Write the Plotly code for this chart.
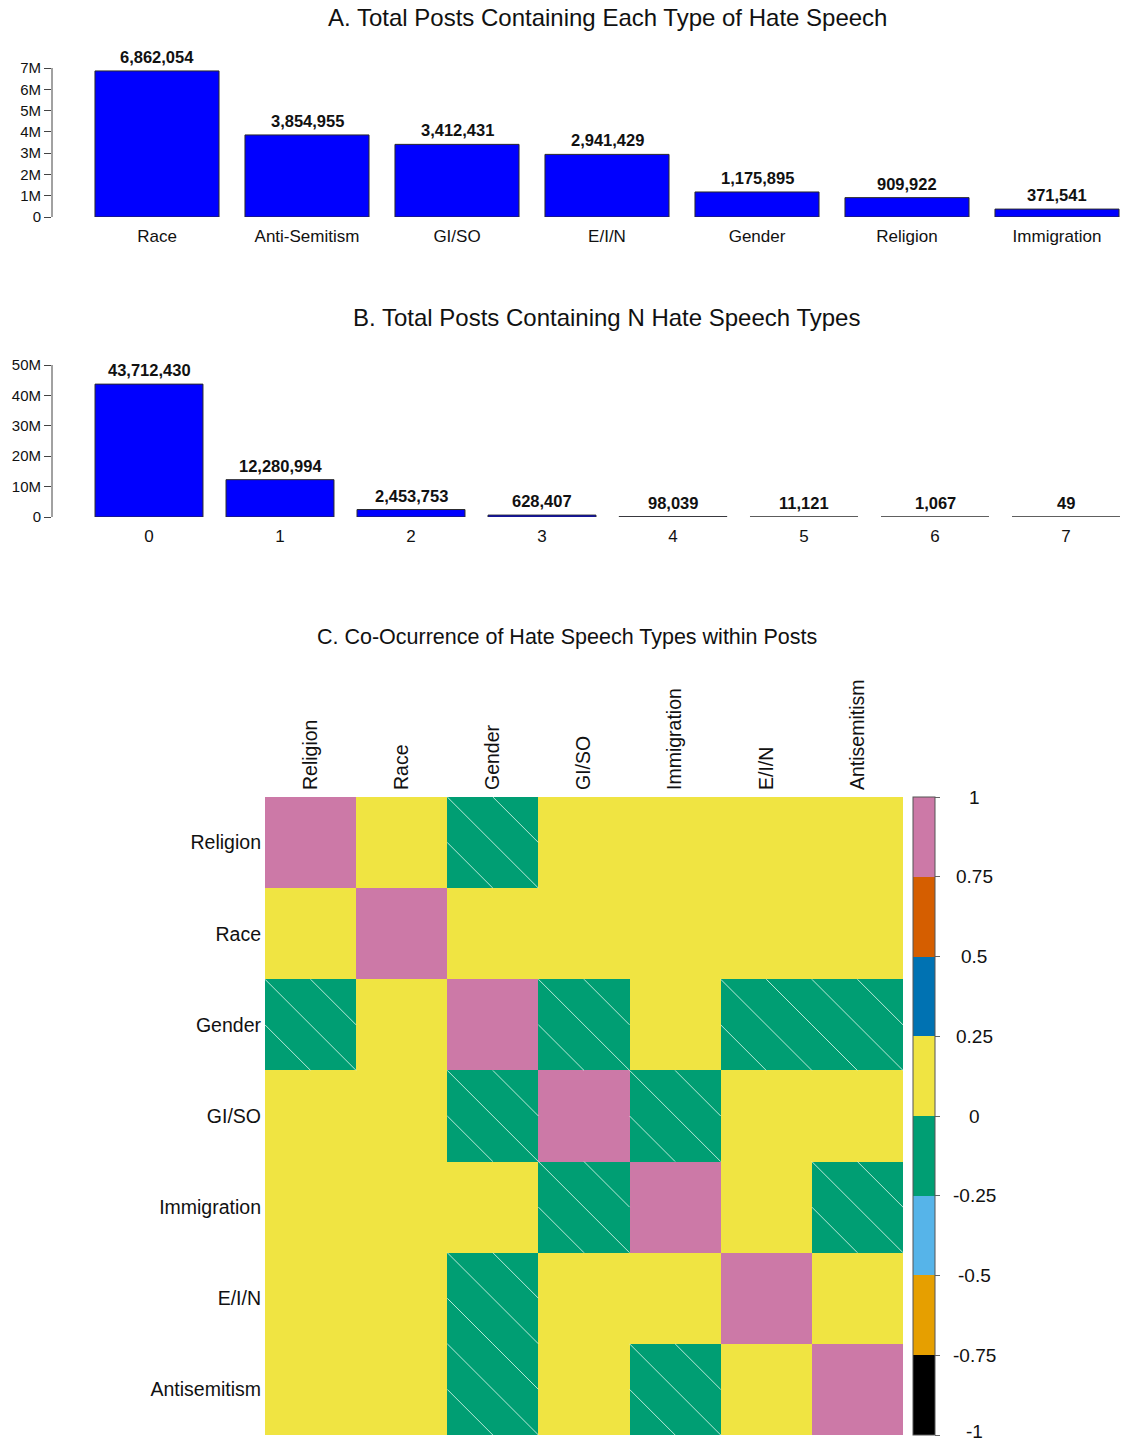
import plotly.graph_objects as go

# ---------------- data ----------------
hate_types = ["Race", "Anti-Semitism", "GI/SO", "E/I/N", "Gender", "Religion", "Immigration"]
hate_totals = [6862054, 3854955, 3412431, 2941429, 1175895, 909922, 371541]

n_types = ["0", "1", "2", "3", "4", "5", "6", "7"]
n_totals = [43712430, 12280994, 2453753, 628407, 98039, 11121, 1067, 49]

a_ticks = [0, 1e6, 2e6, 3e6, 4e6, 5e6, 6e6, 7e6]
a_ticktext = ["0", "1M", "2M", "3M", "4M", "5M", "6M", "7M"]
b_ticks = [0, 1e7, 2e7, 3e7, 4e7, 5e7]
b_ticktext = ["0", "10M", "20M", "30M", "40M", "50M"]

corr_labels = ["Religion", "Race", "Gender", "GI/SO", "Immigration", "E/I/N", "Antisemitism"]
corr_matrix = [
    [1.00, 0.06, -0.03, 0.04, 0.08, 0.09, 0.12],
    [0.06, 1.00, 0.02, 0.05, 0.07, 0.10, 0.03],
    [-0.03, 0.02, 1.00, -0.02, 0.01, -0.04, -0.03],
    [0.04, 0.05, -0.02, 1.00, -0.02, 0.02, 0.03],
    [0.08, 0.07, 0.01, -0.02, 1.00, 0.11, -0.01],
    [0.09, 0.10, -0.04, 0.02, 0.11, 1.00, 0.05],
    [0.12, 0.03, -0.03, 0.03, -0.01, 0.05, 1.00],
]
cbar_ticks = [-1, -0.75, -0.5, -0.25, 0, 0.25, 0.5, 0.75, 1]
cbar_ticktext = ["-1", "-0.75", "-0.5", "-0.25", "0", "0.25", "0.5", "0.75", "1"]
bin_colors = ["#000000", "#E69F00", "#56B4E9", "#009E73",
              "#F0E442", "#0072B2", "#D55E00", "#CC79A7"]

# ---------------- layout helpers (pixel -> paper) ----------------
W, H = 1128, 1444
FONT = "Liberation Sans, Arial, sans-serif"


def px(x):
    return x / W


def py(y):
    return 1 - y / H


fig = go.Figure()

# ---------------- panel A ----------------
fig.add_trace(go.Bar(
    x=list(range(len(hate_types))), y=hate_totals, width=0.827,
    marker=dict(color="#0000FF", line=dict(color="#2a2a2a", width=1)),
    xaxis="x", yaxis="y", showlegend=False, hoverinfo="skip"))

# ---------------- panel B ----------------
fig.add_trace(go.Bar(
    x=list(range(len(n_types))), y=n_totals, width=0.824,
    marker=dict(color="#0000FF", line=dict(color="#2a2a2a", width=1)),
    xaxis="x2", yaxis="y2", showlegend=False, hoverinfo="skip"))

# ---------------- panel C ----------------
nb = len(bin_colors)
colorscale = []
for k, c in enumerate(bin_colors):
    colorscale.append([k / nb, c])
    colorscale.append([(k + 1) / nb, c])

hm_top, hm_bot = 797, 1435
hm_left, hm_right = 265, 903

fig.add_trace(go.Heatmap(
    z=corr_matrix, x=list(range(len(corr_labels))), y=list(range(len(corr_labels))),
    zmin=-1, zmax=1, colorscale=colorscale, xaxis="x3", yaxis="y3",
    hoverinfo="skip",
    colorbar=dict(
        x=px(913), xanchor="left", xpad=0, ypad=0,
        y=py(hm_bot), yanchor="bottom", len=(hm_bot - hm_top) / H, lenmode="fraction",
        thickness=22, thicknessmode="pixels",
        outlinecolor="#555555", outlinewidth=1,
        tickvals=cbar_ticks, ticks="outside", ticklen=5, tickcolor="#666666",
        showticklabels=False)))

# hatching over negative cells
hx, hy = [], []
for i, row in enumerate(corr_matrix):
    for j, v in enumerate(row):
        if v < 0:
            for (x0, y0, x1, y1) in [(j - 0.5, i - 0.5, j + 0.5, i + 0.5),
                                     (j, i - 0.5, j + 0.5, i),
                                     (j - 0.5, i, j, i + 0.5)]:
                hx += [x0, x1, None]
                hy += [y0, y1, None]
fig.add_trace(go.Scatter(x=hx, y=hy, mode="lines",
                         line=dict(color="rgba(215,245,232,0.85)", width=1),
                         xaxis="x3", yaxis="y3", showlegend=False, hoverinfo="skip"))

# ---------------- annotations ----------------
ann = []
for i, v in enumerate(hate_totals):
    ann.append(dict(x=i, y=v, xref="x", yref="y", text=f"<b>{v:,}</b>",
                    showarrow=False, yanchor="bottom", yshift=3,
                    font=dict(size=16.5, color="#111111", family=FONT)))
for i, v in enumerate(n_totals):
    ann.append(dict(x=i, y=v, xref="x2", yref="y2", text=f"<b>{v:,}</b>",
                    showarrow=False, yanchor="bottom", yshift=3,
                    font=dict(size=16.5, color="#111111", family=FONT)))

titles = [("A. Total Posts Containing Each Type of Hate Speech", 607, 18, 24),
          ("B. Total Posts Containing N Hate Speech Types", 606, 317, 24),
          ("C. Co-Ocurrence of Hate Speech Types within Posts", 567, 637, 21.5)]
for t, x, y, s in titles:
    ann.append(dict(x=px(x), y=py(y), xref="paper", yref="paper", text=t,
                    showarrow=False, xanchor="center", yanchor="middle",
                    font=dict(size=s, color="#111111", family=FONT)))

# colour-bar labels, centred beside the ticks; the lowest one is kept inside the page
cb_h = hm_bot - hm_top
cb_font = 19
for v, t in zip(cbar_ticks, cbar_ticktext):
    ypix = hm_bot - (v + 1) / 2 * cb_h
    if ypix + cb_font * 0.6 > H:
        ann.append(dict(x=px(974), y=0, xref="paper", yref="paper", text=t,
                        showarrow=False, xanchor="center", yanchor="bottom",
                        font=dict(size=cb_font, color="#111111", family=FONT)))
    else:
        ann.append(dict(x=px(974), y=py(ypix), xref="paper", yref="paper", text=t,
                        showarrow=False, xanchor="center", yanchor="middle",
                        font=dict(size=cb_font, color="#111111", family=FONT)))

# y-axis lines spanning only the tick range
shapes = [
    dict(type="line", xref="x domain", yref="y", x0=0, x1=0, y0=0, y1=a_ticks[-1],
         line=dict(color="#444444", width=1)),
    dict(type="line", xref="x2 domain", yref="y2", x0=0, x1=0, y0=0, y1=b_ticks[-1],
         line=dict(color="#444444", width=1)),
]

tickfont = dict(size=15, color="#111111", family=FONT)
catfont = dict(size=17, color="#111111", family=FONT)

fig.update_layout(
    width=W, height=H,
    margin=dict(l=0, r=0, t=0, b=0, pad=0, autoexpand=False),
    paper_bgcolor="white", plot_bgcolor="white",
    font=dict(family=FONT),
    annotations=ann, shapes=shapes,
    xaxis=dict(domain=[px(52), 1], range=[-0.7, (W - 52) / 150 - 0.7],
               tickvals=list(range(len(hate_types))), ticktext=hate_types,
               ticks="", showline=False, showgrid=False, zeroline=False,
               tickfont=catfont, ticklabelstandoff=7),
    yaxis=dict(domain=[py(217), py(68)], range=[0, a_ticks[-1]],
               tickvals=a_ticks, ticktext=a_ticktext, ticks="outside", ticklen=7,
               tickcolor="#444444", showline=False, showgrid=False, zeroline=False,
               tickfont=tickfont, anchor="x"),
    xaxis2=dict(domain=[px(52), 1], range=[-97 / 131, (W - 149) / 131],
                tickvals=list(range(len(n_types))), ticktext=n_types,
                ticks="", showline=False, showgrid=False, zeroline=False,
                tickfont=catfont, ticklabelstandoff=7, anchor="y2"),
    yaxis2=dict(domain=[py(517), py(365)], range=[0, b_ticks[-1]],
                tickvals=b_ticks, ticktext=b_ticktext, ticks="outside", ticklen=7,
                tickcolor="#444444", showline=False, showgrid=False, zeroline=False,
                tickfont=tickfont, anchor="x2"),
    xaxis3=dict(domain=[px(hm_left), px(hm_right)], range=[-0.5, len(corr_labels) - 0.5],
                tickvals=list(range(len(corr_labels))), ticktext=corr_labels,
                side="top", tickangle=-90, ticks="", showline=False, showgrid=False,
                zeroline=False, tickfont=dict(size=19.5, color="#111111", family=FONT),
                ticklabelstandoff=6, anchor="y3"),
    yaxis3=dict(domain=[py(hm_bot), py(hm_top)], range=[len(corr_labels) - 0.5, -0.5],
                tickvals=list(range(len(corr_labels))), ticktext=corr_labels,
                ticks="", showline=False, showgrid=False, zeroline=False,
                tickfont=dict(size=19.5, color="#111111", family=FONT),
                ticklabelstandoff=3, anchor="x3"),
)

fig.write_html("out.html")
